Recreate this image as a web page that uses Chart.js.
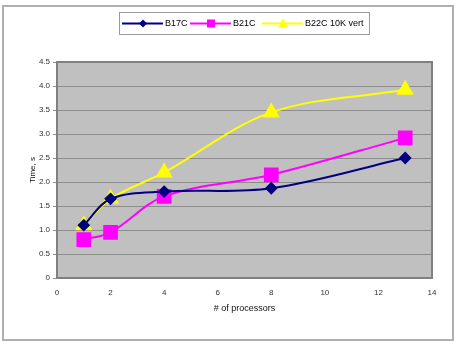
<!DOCTYPE html>
<html>
<head>
<meta charset="utf-8">
<script src="https://cdn.jsdelivr.net/npm/chart.js@4.4.1/dist/chart.umd.min.js"></script>
<style>
  html, body { margin: 0; padding: 0; background: #fff; }
  #wrap { width: 458px; height: 344px; position: relative; }
</style>
</head>
<body>
<div id="wrap"><canvas id="timeChart"></canvas></div>
<script>
const processors = [1, 2, 4, 8, 13];
const b17c = [1.1, 1.65, 1.8, 1.87, 2.5];
const b21c = [0.8, 0.95, 1.7, 2.15, 2.92];
const b22c10k = [1.1, 1.65, 2.2, 3.45, 3.92];
const seriesNames = ['B17C', 'B21C', 'B22C 10K vert'];
const xTicks = [0, 2, 4, 6, 8, 10, 12, 14];
const yTicks = [0, 0.5, 1, 1.5, 2, 2.5, 3, 3.5, 4, 4.5];

const ctx = document.getElementById('timeChart').getContext('2d');

function toPoints(values) {
  return processors.map((p, i) => ({ x: p, y: values[i] }));
}

// frame, plot background and the boxed legend
const excelLook = {
  id: 'excelLook',
  beforeDraw(chart) {
    const c = chart.ctx;
    const a = chart.chartArea;
    c.save();
    c.fillStyle = '#ffffff';
    c.fillRect(0, 0, chart.width, chart.height);
    c.strokeStyle = '#b0b0b0';
    c.lineWidth = 2;
    c.strokeRect(3, 6, 450, 334);
    c.fillStyle = '#c0c0c0';
    c.fillRect(a.left, a.top, a.right - a.left, a.bottom - a.top);
    c.restore();
  },
  afterDatasetsDraw(chart) {
    const c = chart.ctx;
    const a = chart.chartArea;
    c.save();
    c.strokeStyle = '#808080';
    c.lineWidth = 2;
    c.strokeRect(a.left, a.top, a.right - a.left, a.bottom - a.top);
    c.restore();
  },
  afterDraw(chart) {
    const c = chart.ctx;
    c.save();
    c.strokeStyle = '#9a9a9a';
    c.lineWidth = 1;
    c.strokeRect(119.5, 12.5, 250, 22);
    const starts = [122, 190, 262];
    chart.data.datasets.forEach((ds, i) => {
      const x0 = starts[i];
      const y0 = 23.5;
      c.strokeStyle = ds.borderColor;
      c.lineWidth = 2;
      c.beginPath();
      c.moveTo(x0, y0);
      c.lineTo(x0 + 41, y0);
      c.stroke();
      c.fillStyle = ds.pointBackgroundColor;
      const mx = x0 + 21;
      c.beginPath();
      if (ds.pointStyle === 'rectRot') {
        c.moveTo(mx, y0 - 4); c.lineTo(mx + 4, y0); c.lineTo(mx, y0 + 4); c.lineTo(mx - 4, y0);
      } else if (ds.pointStyle === 'rect') {
        c.rect(mx - 4, y0 - 4, 8, 8);
      } else {
        c.moveTo(mx, y0 - 5); c.lineTo(mx + 5, y0 + 4); c.lineTo(mx - 5, y0 + 4);
      }
      c.closePath();
      c.fill();
      c.fillStyle = '#000';
      c.font = '9px "Liberation Sans", Arial, sans-serif';
      c.textBaseline = 'middle';
      c.fillText(ds.label, x0 + 43, y0 + 0.5);
    });
    c.restore();
  }
};

new Chart(ctx, {
  type: 'line',
  data: {
    datasets: [
      {
        label: seriesNames[0],
        data: toPoints(b17c),
        borderColor: '#000080',
        backgroundColor: '#000080',
        pointBackgroundColor: '#000080',
        pointBorderColor: '#000080',
        pointStyle: 'rectRot',
        pointRadius: 5,
        borderWidth: 2,
        tension: 0.35
      },
      {
        label: seriesNames[1],
        data: toPoints(b21c),
        borderColor: '#ff00ff',
        backgroundColor: '#ff00ff',
        pointBackgroundColor: '#ff00ff',
        pointBorderColor: '#ff00ff',
        pointStyle: 'rect',
        pointRadius: 9,
        borderWidth: 2,
        tension: 0.35
      },
      {
        label: seriesNames[2],
        data: toPoints(b22c10k),
        borderColor: '#ffff00',
        backgroundColor: '#ffff00',
        pointBackgroundColor: '#ffff00',
        pointBorderColor: '#ffff00',
        pointStyle: 'triangle',
        pointRadius: 8,
        borderWidth: 2,
        tension: 0.35
      }
    ]
  },
  options: {
    responsive: true,
    maintainAspectRatio: false,
    animation: false,
    clip: false,
    layout: { padding: { top: 62, right: 26, left: 24, bottom: 26 } },
    plugins: {
      legend: { display: false },
      tooltip: { enabled: false }
    },
    scales: {
      x: {
        type: 'linear',
        min: 0,
        max: 14,
        afterBuildTicks: s => { s.ticks = xTicks.map(v => ({ value: v })); },
        afterFit: s => { s.height = 40; },
        grid: { display: false, drawTicks: true, tickLength: 4, color: '#808080' },
        border: { display: false },
        ticks: { color: '#333', font: { size: 8, family: '"Liberation Sans", Arial, sans-serif' }, padding: 6, maxRotation: 0 },
        title: {
          display: true,
          text: '# of processors',
          color: '#111',
          font: { size: 9, family: '"Liberation Sans", Arial, sans-serif' },
          padding: { top: 4 }
        }
      },
      y: {
        min: 0,
        max: 4.5,
        afterBuildTicks: s => { s.ticks = yTicks.map(v => ({ value: v })); },
        afterFit: s => { s.width = 33; },
        grid: { color: '#8c8c8c', lineWidth: 1, drawTicks: true, tickLength: 4 },
        border: { display: false },
        ticks: { color: '#333', font: { size: 8, family: '"Liberation Sans", Arial, sans-serif' }, padding: 3 },
        title: {
          display: true,
          text: 'Time, s',
          color: '#111',
          font: { size: 8, family: '"Liberation Sans", Arial, sans-serif' },
          padding: { bottom: 2 }
        }
      }
    }
  },
  plugins: [excelLook]
});
</script>
</body>
</html>
